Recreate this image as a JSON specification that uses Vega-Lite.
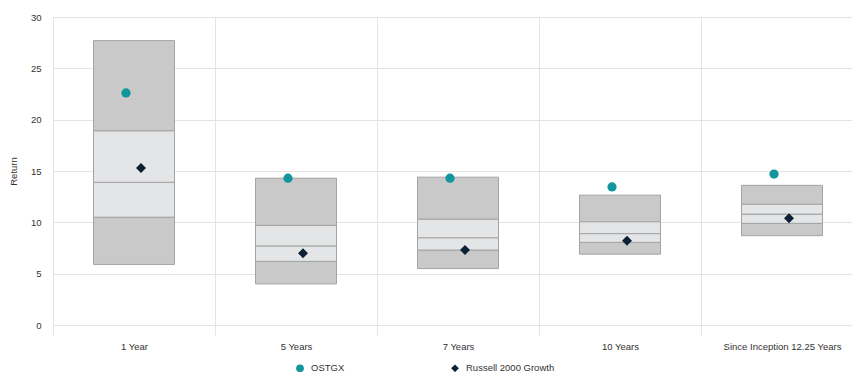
{
  "$schema": "https://vega.github.io/schema/vega-lite/v6.json",
  "autosize": "none",
  "width": 810,
  "height": 308,
  "padding": {"left": 53, "top": 17, "right": 0, "bottom": 47},
  "background": "white",
  "config": {
    "view": {"stroke": null},
    "font": "Liberation Sans",
    "axis": {"labelFont": "Liberation Sans", "titleFont": "Liberation Sans", "labelColor": "#333333", "titleColor": "#333333"}
  },
  "datasets": {
    "ranges": [
      {"period": "1 Year", "zone": "outer", "lo": 5.9, "hi": 10.5},
      {"period": "1 Year", "zone": "inner", "lo": 10.5, "hi": 13.9},
      {"period": "1 Year", "zone": "inner", "lo": 13.9, "hi": 18.9},
      {"period": "1 Year", "zone": "outer", "lo": 18.9, "hi": 27.7},
      {"period": "5 Years", "zone": "outer", "lo": 4.0, "hi": 6.2},
      {"period": "5 Years", "zone": "inner", "lo": 6.2, "hi": 7.7},
      {"period": "5 Years", "zone": "inner", "lo": 7.7, "hi": 9.7},
      {"period": "5 Years", "zone": "outer", "lo": 9.7, "hi": 14.3},
      {"period": "7 Years", "zone": "outer", "lo": 5.5, "hi": 7.3},
      {"period": "7 Years", "zone": "inner", "lo": 7.3, "hi": 8.5},
      {"period": "7 Years", "zone": "inner", "lo": 8.5, "hi": 10.3},
      {"period": "7 Years", "zone": "outer", "lo": 10.3, "hi": 14.4},
      {"period": "10 Years", "zone": "outer", "lo": 6.9, "hi": 8.05},
      {"period": "10 Years", "zone": "inner", "lo": 8.05, "hi": 8.9},
      {"period": "10 Years", "zone": "inner", "lo": 8.9, "hi": 10.05},
      {"period": "10 Years", "zone": "outer", "lo": 10.05, "hi": 12.65},
      {"period": "Since Inception 12.25 Years", "zone": "outer", "lo": 8.7, "hi": 9.9},
      {"period": "Since Inception 12.25 Years", "zone": "inner", "lo": 9.9, "hi": 10.8},
      {"period": "Since Inception 12.25 Years", "zone": "inner", "lo": 10.8, "hi": 11.75},
      {"period": "Since Inception 12.25 Years", "zone": "outer", "lo": 11.75, "hi": 13.6}
    ],
    "returns": [
      {"period": "1 Year", "series": "OSTGX", "value": 22.6},
      {"period": "5 Years", "series": "OSTGX", "value": 14.3},
      {"period": "7 Years", "series": "OSTGX", "value": 14.3},
      {"period": "10 Years", "series": "OSTGX", "value": 13.45},
      {"period": "Since Inception 12.25 Years", "series": "OSTGX", "value": 14.7},
      {"period": "1 Year", "series": "Russell 2000 Growth", "value": 15.3},
      {"period": "5 Years", "series": "Russell 2000 Growth", "value": 7.0},
      {"period": "7 Years", "series": "Russell 2000 Growth", "value": 7.3},
      {"period": "10 Years", "series": "Russell 2000 Growth", "value": 8.2},
      {"period": "Since Inception 12.25 Years", "series": "Russell 2000 Growth", "value": 10.4}
    ]
  },
  "encoding": {
    "x": {
      "field": "period",
      "type": "nominal",
      "sort": null,
      "scale": {"paddingInner": 0, "paddingOuter": 0},
      "axis": {
        "title": null,
        "labelAngle": 0,
        "labelFontSize": 9.5,
        "labelPadding": 6,
        "tickBand": "extent",
        "grid": true,
        "gridColor": "#e4e4e4",
        "tickColor": "#e4e4e4",
        "tickSize": 10,
        "domain": false,
        "labelLimit": 200
      }
    }
  },
  "layer": [
    {
      "data": {"name": "ranges"},
      "transform": [{"filter": "datum.zone === 'outer'"}],
      "mark": {"type": "bar", "width": {"band": 0.5}, "fill": "#c9c9c9", "stroke": "#a3a3a3", "strokeWidth": 1},
      "encoding": {
        "y": {
          "field": "lo",
          "type": "quantitative",
          "scale": {"domain": [0, 30]},
          "axis": {
            "title": "Return",
            "titleFontSize": 9.5,
            "titleFontWeight": "normal",
            "titlePadding": 12,
            "labelFontSize": 9.5,
            "values": [0, 5, 10, 15, 20, 25, 30],
            "ticks": false,
            "labelPadding": 12,
            "grid": true,
            "gridColor": "#e4e4e4",
            "domain": true,
            "domainColor": "#e4e4e4"
          }
        },
        "y2": {"field": "hi"}
      }
    },
    {
      "data": {"name": "ranges"},
      "transform": [{"filter": "datum.zone === 'inner'"}],
      "mark": {"type": "bar", "width": {"band": 0.5}, "fill": "#e4e5e7", "stroke": "#a3a3a3", "strokeWidth": 1},
      "encoding": {
        "y": {"field": "lo", "type": "quantitative"},
        "y2": {"field": "hi"}
      }
    },
    {
      "data": {"name": "returns"},
      "transform": [{"filter": "datum.series === 'OSTGX'"}],
      "mark": {"type": "point", "filled": true, "opacity": 1, "size": 85, "xOffset": -8},
      "encoding": {
        "y": {"field": "value", "type": "quantitative"},
        "color": {
          "field": "series",
          "type": "nominal",
          "scale": {"domain": ["OSTGX", "Russell 2000 Growth"], "range": ["#13969b", "#0d2136"]},
          "legend": {
            "title": null,
            "orient": "none",
            "direction": "horizontal",
            "legendX": 242,
            "legendY": 346,
            "labelFontSize": 9.5,
            "labelColor": "#333333",
            "symbolSize": 60,
            "columnPadding": 105,
            "labelOffset": 6
          }
        },
        "shape": {
          "field": "series",
          "type": "nominal",
          "scale": {"domain": ["OSTGX", "Russell 2000 Growth"], "range": ["circle", "diamond"]}
        }
      }
    },
    {
      "data": {"name": "returns"},
      "transform": [{"filter": "datum.series === 'Russell 2000 Growth'"}],
      "mark": {"type": "point", "filled": true, "opacity": 1, "size": 100, "xOffset": 7},
      "encoding": {
        "y": {"field": "value", "type": "quantitative"},
        "color": {"field": "series", "type": "nominal"},
        "shape": {"field": "series", "type": "nominal"}
      }
    }
  ]
}
